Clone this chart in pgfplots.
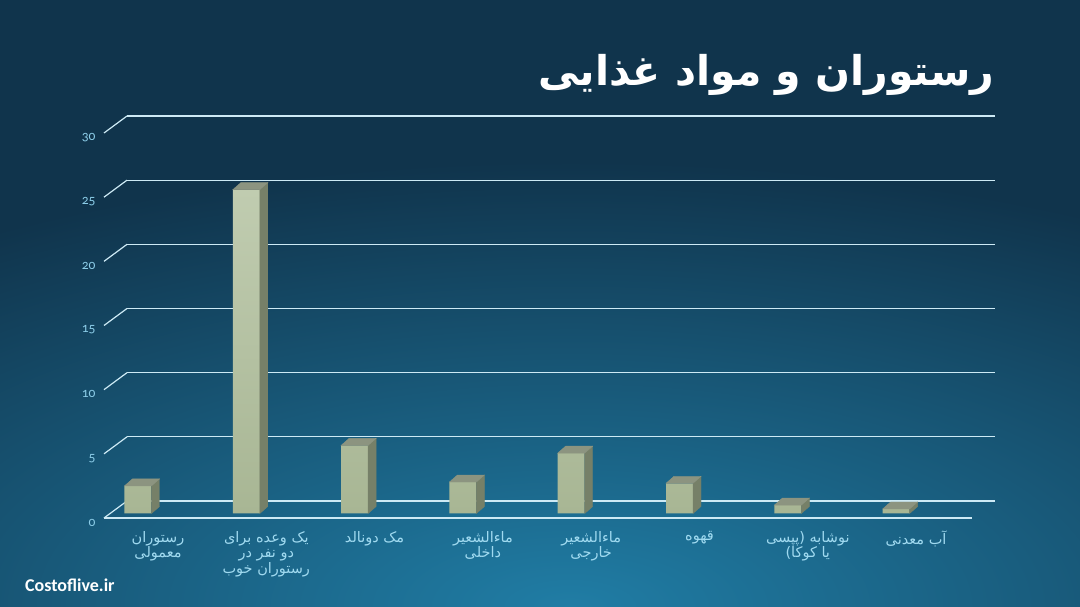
\documentclass[border=0pt]{standalone}
\usepackage{pgfplots}
\pgfplotsset{compat=1.18}
\usepackage{pgfplotstable}
\usepackage{fontspec}
\setmainfont{Carlito}
\newfontfamily\arabicfont[Script=Arabic]{DejaVu Sans}
\newfontfamily\tickfont[Numbers=OldStyle]{Carlito}
\TeXXeTstate=1
\newcommand\RL[1]{\beginR #1\endR}
\definecolor{bgdark}{RGB}{16,52,76}
\definecolor{bglight}{RGB}{32,125,165}
\definecolor{barfronttop}{RGB}{192,204,176}
\definecolor{barfrontbot}{RGB}{168,182,148}
\definecolor{barside}{RGB}{118,128,104}
\definecolor{bartop}{RGB}{140,148,128}
\definecolor{gridc}{RGB}{205,234,245}
\definecolor{labc}{RGB}{160,218,240}
\definecolor{tickc}{RGB}{140,205,232}

\pgfdeclareradialshading{bgshade}{\pgfpoint{0bp}{0bp}}{color(0bp)=(bglight); color(25bp)=(bgdark); color(50bp)=(bgdark)}

\pgfplotstableread{
x val
0 2.15
1 25.2
2 5.3
3 2.45
4 4.7
5 2.35
6 0.65
7 0.35
}\prices

\pgfdeclareplotmark{bar3d}{%
  \pgfmathsetmacro\hh{\rawy*12.85}%
  \fill[barside] (13.5pt,0pt) -- (21.5pt,7pt) -- (21.5pt,7pt-\hh pt) -- (13.5pt,-\hh pt) -- cycle;
  \fill[bartop] (-13.5pt,0pt) -- (-5.5pt,7pt) -- (21.5pt,7pt) -- (13.5pt,0pt) -- cycle;
}

\begin{document}
\begin{tikzpicture}
\useasboundingbox (0pt,0pt) rectangle (1080pt,607pt);
\fill[bgdark] (0pt,0pt) rectangle (1080pt,607pt);
\begin{scope}
\clip (0pt,0pt) rectangle (1080pt,607pt);
\shade[shading=bgshade] (570pt,0pt) ellipse (1067pt and 446pt);
\end{scope}

% back wall with grid
\begin{axis}[
  at={(127pt,106pt)}, anchor=south west,
  scale only axis, width=868pt, height=385pt,
  xmin=0, xmax=1, ymin=0, ymax=30,
  xtick=\empty, ytick={0,5,...,30},
  ymajorgrids, grid style={gridc, line width=1.2pt},
  axis line style={draw=none}, major tick length=0pt,
  yticklabel style={font=\tickfont\fontsize{13.5}{13.5}\selectfont, text=tickc, xshift=-28pt, yshift=-21.5pt},
  /pgf/number format/assume math mode=true,
  clip=false,
]
\addplot[draw=none] coordinates {(0,0) (1,30)};
\pgfplotsinvokeforeach{0,5,...,30}{
  \draw[gridc, line width=1.2pt] (axis cs:0,#1) -- ++(-23pt,-17pt);
}
\draw[gridc, line width=1.2pt] (axis cs:0,0) ++(-23pt,-17pt) -- ++(868pt,0pt);
\end{axis}

% bars
\begin{axis}[
  at={(105.5pt,93.5pt)}, anchor=south west,
  scale only axis, width=855.6pt, height=385.5pt,
  xmin=-0.3, xmax=7.6, ymin=0, ymax=30,
  axis line style={draw=none}, ytick=\empty,
  xtick=data, major tick length=0pt,
  xticklabels={
    {\RL{رستوران}\\\RL{معمولی}},
    {\RL{یک وعده برای}\\\RL{دو نفر در}\\\RL{رستوران خوب}},
    {\RL{مک دونالد}},
    {\RL{ماءالشعیر}\\\RL{داخلی}},
    {\RL{ماءالشعیر}\\\RL{خارجی}},
    {\RL{قهوه}},
    {\RL{نوشابه (پپسی}\\\RL{یا کوکا)}},
    {\RL{آب معدنی}}
  },
  xticklabel style={font=\arabicfont\fontsize{14.5}{15.5}\selectfont, text=labc, align=center, xshift=20pt, yshift=-14pt},
  clip=false,
]
\addplot[ybar, bar width=27pt, draw=none, top color=barfronttop, bottom color=barfrontbot] table[x=x,y=val]{\prices};
\addplot[only marks, mark=bar3d, visualization depends on={rawy\as\rawy}] table[x=x,y=val]{\prices};
\end{axis}

\node[anchor=east, text=white, font=\arabicfont\bfseries\fontsize{41}{41}\selectfont] at (998pt,532pt) {\RL{رستوران و مواد غذایی}};
\node[anchor=west, text=white, font=\bfseries\fontsize{18}{18}\selectfont, inner sep=0pt] at (25pt,22pt) {Costoflive.ir};
\end{tikzpicture}
\end{document}
